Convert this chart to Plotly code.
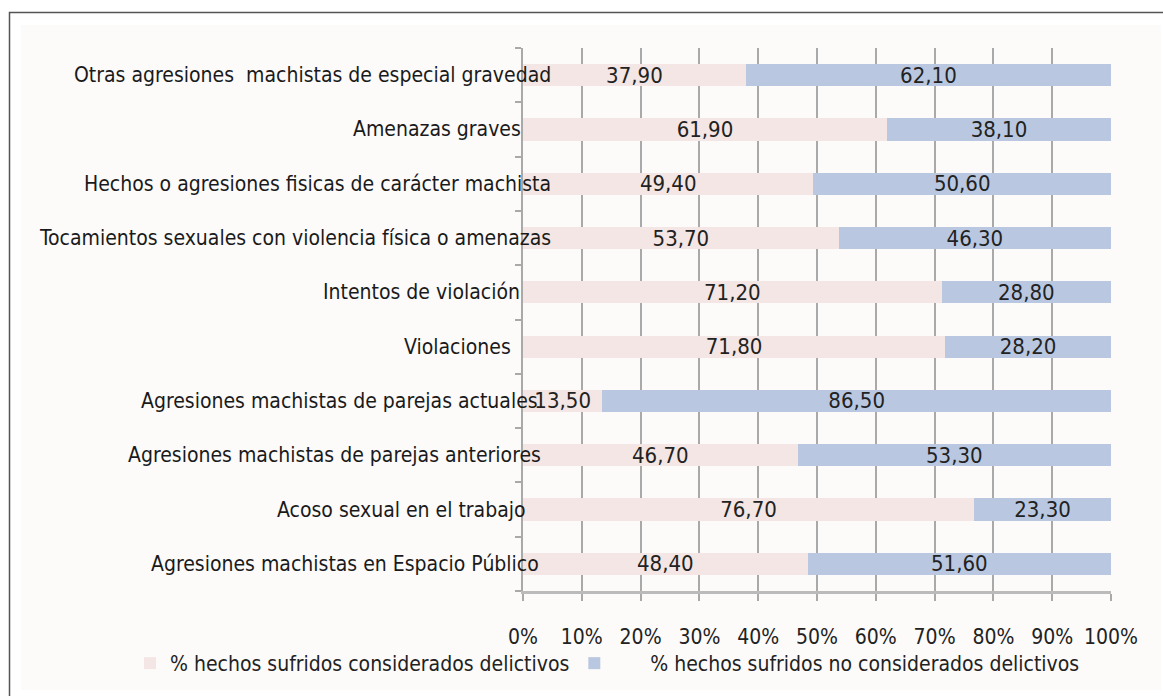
import plotly.graph_objects as go

categories = [
    "Otras agresiones  machistas de especial gravedad",
    "Amenazas graves",
    "Hechos o agresiones fisicas de carácter machista",
    "Tocamientos sexuales con violencia física o amenazas",
    "Intentos de violación",
    "Violaciones",
    "Agresiones machistas de parejas actuales",
    "Agresiones machistas de parejas anteriores",
    "Acoso sexual en el trabajo",
    "Agresiones machistas en Espacio Público",
]
delictivos = [37.90, 61.90, 49.40, 53.70, 71.20, 71.80, 13.50, 46.70, 76.70, 48.40]
no_delictivos = [62.10, 38.10, 50.60, 46.30, 28.80, 28.20, 86.50, 53.30, 23.30, 51.60]
series_names = ["% hechos sufridos considerados delictivos",
                "% hechos sufridos no considerados delictivos"]
x_ticks = [0, 10, 20, 30, 40, 50, 60, 70, 80, 90, 100]
x_tick_labels = [f"{v}%" for v in x_ticks]

# label right-edge offsets (px) relative to the y axis, as in the original
label_shift = [30, 0, 30, 30, -1, -10, 17, 20, 5, 18]

W, H = 1163, 696
L, R, T, B = 523, 52, 48, 105
PW, PH = W - L - R, H - T - B

def px(xp):
    return (xp - L) / PW

def py(yp):
    return (H - B - yp) / PH

COND = "DejaVu Sans Condensed"
PINK = "#F3E6E4"
BLUE = "#B9C8E0"
GRID = "#A9A9A9"

fig = go.Figure()
fig.add_trace(go.Bar(
    y=categories, x=delictivos, orientation="h", name=series_names[0],
    marker=dict(color=PINK, line=dict(width=0)), width=0.41,
    texttemplate="%{x:.2f}", textposition="inside", insidetextanchor="middle",
    textangle=0, constraintext="none",
    textfont=dict(family=COND, size=22, color="#222222"),
))
fig.add_trace(go.Bar(
    y=categories, x=no_delictivos, orientation="h",
    name="\u00a0" * 6 + series_names[1],
    marker=dict(color=BLUE, line=dict(width=0)), width=0.41,
    texttemplate="%{x:.2f}", textposition="inside", insidetextanchor="middle",
    textangle=0, constraintext="none",
    textfont=dict(family=COND, size=22, color="#222222"),
))

annotations = []
for cat, sh in zip(categories, label_shift):
    annotations.append(dict(
        x=0, xref="paper", y=cat, yref="y", text=cat, showarrow=False,
        xanchor="right", yanchor="middle", xshift=sh,
        font=dict(family=COND, size=21, color="#1a1a1a"),
    ))

shapes = [
    dict(type="rect", xref="paper", yref="paper", layer="below",
         x0=px(21), x1=px(1161), y0=py(690), y1=py(25),
         fillcolor="#FCFBFA", line=dict(width=0)),
    dict(type="rect", xref="paper", yref="paper", layer="above",
         x0=px(9.5), x1=px(1175), y0=py(710), y1=py(12.5),
         fillcolor="rgba(0,0,0,0)", line=dict(color="#555555", width=1.5)),
]

fig.update_layout(
    width=W, height=H,
    margin=dict(l=L, r=R, t=T, b=B, pad=0),
    paper_bgcolor="white", plot_bgcolor="rgba(0,0,0,0)",
    barmode="stack", separators=",.",
    showlegend=True,
    legend=dict(orientation="h", x=px(130), y=py(643), xanchor="left", yanchor="top",
                font=dict(family=COND, size=21, color="#222222"),
                bgcolor="rgba(0,0,0,0)", itemwidth=30, traceorder="normal"),
    annotations=annotations,
    shapes=shapes,
    xaxis=dict(range=[0, 100], tickvals=x_ticks, ticktext=x_tick_labels,
               showgrid=True, gridcolor=GRID, gridwidth=2,
               ticks="outside", ticklen=7, tickwidth=2, tickcolor=GRID,
               ticklabelstandoff=18,
               showline=True, linecolor="#BBBBBB", linewidth=3,
               zeroline=False, fixedrange=True,
               tickfont=dict(family=COND, size=21, color="#222222")),
    yaxis=dict(categoryorder="array", categoryarray=categories[::-1],
               range=[-0.5, len(categories) - 0.5],
               showticklabels=False, tickson="boundaries",
               ticks="outside", ticklen=6, tickwidth=2, tickcolor=GRID,
               showline=True, linecolor=GRID, linewidth=2,
               showgrid=False, zeroline=False, fixedrange=True),
)

fig.write_html("out.html", config={"displayModeBar": False},
               post_script="document.body.style.margin='0px';")
